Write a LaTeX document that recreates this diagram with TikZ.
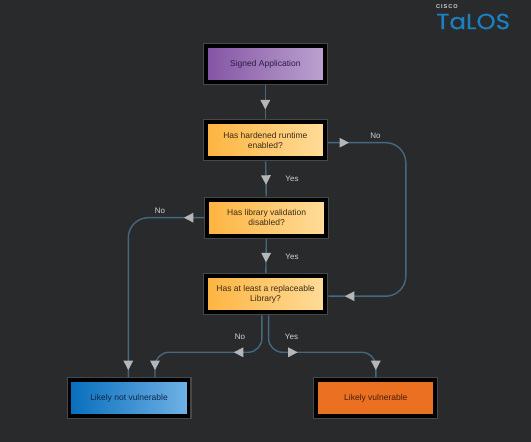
\documentclass[tikz,border=0pt]{standalone}
\usepackage{fontspec}
\setmainfont{Liberation Sans}
\newfontfamily\logofont[FakeBold=0.5]{Poppins}
\usetikzlibrary{arrows.meta,positioning,calc,decorations.markings}
\definecolor{canvasbg}{HTML}{292A2C}
\definecolor{rimgray}{HTML}{46484A}
\definecolor{edgeblue}{HTML}{45687E}
\definecolor{tipgray}{HTML}{B4B6B8}
\definecolor{labelgray}{HTML}{D2D3D4}
\definecolor{talosblue}{HTML}{1C7FC0}
\definecolor{signedleft}{HTML}{8454A4}
\definecolor{signedright}{HTML}{BCA2D0}
\definecolor{signedtext}{HTML}{2C1C44}
\definecolor{askleft}{HTML}{FDB440}
\definecolor{askright}{HTML}{FEDC9A}
\definecolor{asktext}{HTML}{3E2C14}
\definecolor{safeleft}{HTML}{086EBC}
\definecolor{saferight}{HTML}{70B2E6}
\definecolor{safetext}{HTML}{0C2648}
\definecolor{riskfill}{HTML}{EC7022}
\definecolor{risktext}{HTML}{441C0A}
\begin{document}
\begin{tikzpicture}[x=1bp, y=1bp,
  box/.style={preaction={draw=rimgray, line width=6bp}, draw=black, line width=3.8bp, minimum width=119bp, minimum height=36bp,
    inner sep=0pt, outer sep=3.2bp, align=center, font=\fontsize{8.5bp}{10bp}\selectfont},
  signedbox/.style={box, left color=signedleft, right color=signedright, text=signedtext},
  askbox/.style={box, left color=askleft, right color=askright, text=asktext},
  safebox/.style={box, left color=safeleft, right color=saferight, text=safetext},
  riskbox/.style={box, fill=riskfill, text=risktext},
  flow/.style={draw=edgeblue, line width=1.4bp, rounded corners=#1},
  flow/.default=0pt,
  tipat/.style={postaction={decorate, decoration={markings, mark=at position #1 with {\arrow{Triangle[length=9.5bp, width=9.5bp, color=tipgray]}}}}},
  tag/.style={text=labelgray, font=\fontsize{8bp}{10bp}\selectfont, inner sep=0pt}]
\fill[canvasbg] (0,0) rectangle (531,442);
\useasboundingbox (0,0) rectangle (531,442);

\node[signedbox] at (265.3,377.8) (signed) {Signed Application};
\node[askbox, below=33.5bp of signed] (hardened) {Has hardened runtime\\enabled?};
\node[askbox, below=35.2bp of hardened, xshift=1.3bp] (libval) {Has library validation\\disabled?};
\node[askbox, below=34.1bp of libval, xshift=-1bp] (replace) {Has at least a replaceable\\Library?};
\node[safebox] at (129,43.7) (notvuln) {Likely not vulnerable};
\node[riskbox] at (375.8,43.7) (vuln) {Likely vulnerable};

\draw[flow, tipat=24bp] (signed) -- (hardened);
\draw[flow, tipat=23.5bp] (hardened) -- (libval);
\draw[flow, tipat=23.5bp] (libval) -- (replace);
\draw[flow=20bp, tipat=21bp, tipat=-16.6bp] ([yshift=-2.6bp]hardened.east) -| ([xshift=77.5bp,yshift=-2bp]replace.east) -- ([yshift=-2bp]replace.east);
\draw[flow=20bp, tipat=20bp, tipat=-7bp] (libval.west) -| ([xshift=-0.7bp]notvuln.north);
\draw[flow=14bp, tipat=59bp, tipat=-7bp] ([xshift=-3.7bp]replace.south) |- ([xshift=26bp,yshift=24.8bp]notvuln.north) -- ([xshift=26bp]notvuln.north);
\draw[flow=14bp, tipat=60bp, tipat=-7bp] ([xshift=3bp]replace.south) |- ([yshift=24.8bp]vuln.north) -- (vuln.north);

\node[tag] at (292,263) (yestop) {Yes};
\node[tag] at (292,185.3) (yesmid) {Yes};
\node[tag] at (291.5,105) (yesright) {Yes};
\node[tag] at (375.5,306.5) (notop) {No};
\node[tag] at (160,231) (nomid) {No};
\node[tag] at (240,105) (noleft) {No};

\node[anchor=west, inner sep=0pt, text=labelgray, font=\fontsize{5.6bp}{6bp}\selectfont\bfseries] at (436,435.6) (ciscomark) {C\,I\,S\,C\,O};
\node[anchor=west, inner sep=0pt, text=talosblue, font=\logofont\fontsize{22bp}{22bp}\selectfont, xscale=1.11] at (436,420.5) (talosmark) {TaLOS};
\end{tikzpicture}
\end{document}
